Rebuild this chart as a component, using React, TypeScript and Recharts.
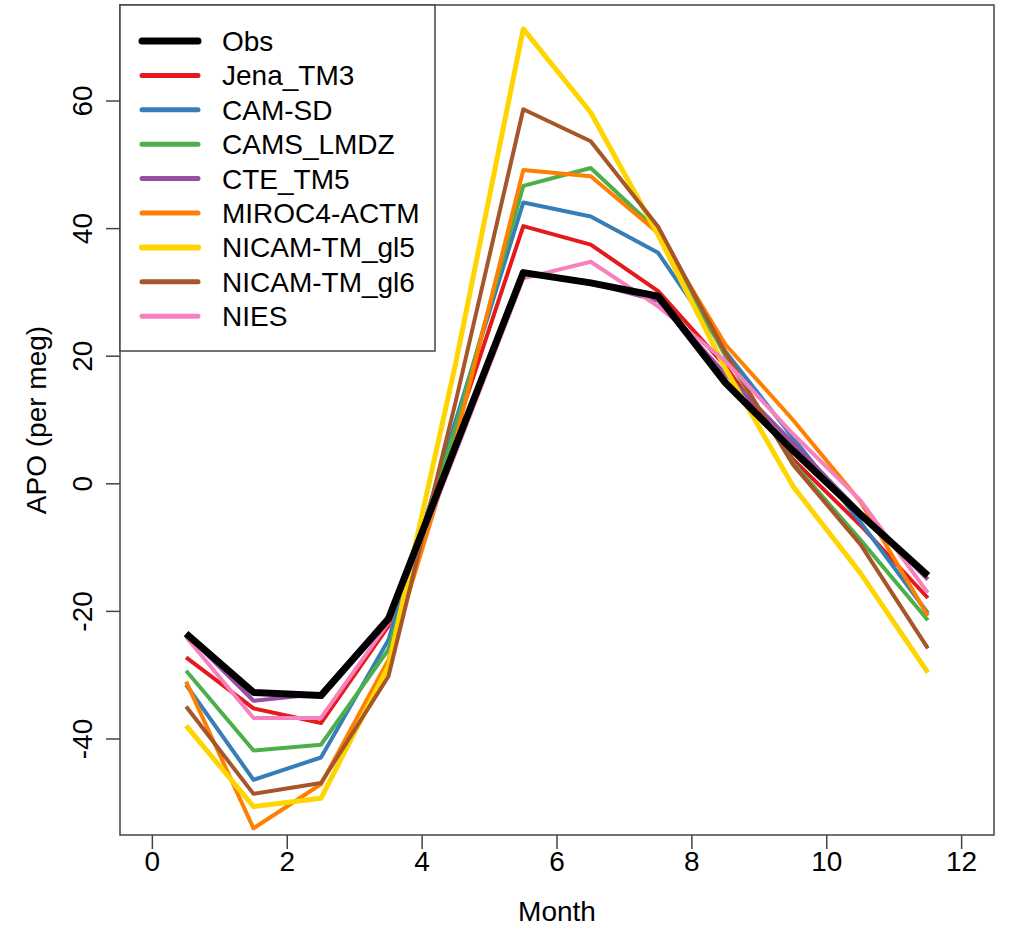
import React from 'react';
import {
  LineChart,
  Line,
  XAxis,
  YAxis,
  Legend,
  ReferenceArea,
  Label
} from 'recharts';

// Monthly APO climatology, observations vs. transport models
const months = [0.5, 1.5, 2.5, 3.5, 4.5, 5.5, 6.5, 7.5, 8.5, 9.5, 10.5, 11.5];

const obs = [-23.5, -32.7, -33.2, -21.2, 6.0, 33.1, 31.5, 29.4, 15.8, 5.2, -4.8, -14.4];
const jenaTM3 = [-27.2, -35.2, -37.5, -22.3, 8.5, 40.4, 37.5, 30.2, 18.4, 3.8, -6.5, -17.9];
const camSD = [-31.5, -46.4, -42.9, -24.5, 10.0, 44.1, 41.9, 36.2, 20.7, 7.2, -6.0, -20.3];
const camsLMDZ = [-29.3, -41.8, -40.9, -26.0, 9.0, 46.7, 49.5, 39.6, 20.0, 3.3, -8.8, -21.4];
const cteTM5 = [-23.5, -34.0, -32.9, -20.8, 6.2, 33.0, 31.5, 28.7, 17.2, 6.4, -4.5, -15.0];
const miroc4 = [-31.0, -54.0, -47.1, -27.6, 7.0, 49.2, 48.2, 39.3, 21.8, 10.0, -2.8, -20.7];
const nicamGl5 = [-37.9, -50.6, -49.3, -28.6, 19.0, 71.3, 58.2, 39.0, 18.0, -0.4, -14.0, -29.6];
const nicamGl6 = [-34.9, -48.6, -46.9, -30.2, 13.0, 58.7, 53.7, 40.3, 20.5, 3.0, -9.5, -25.8];
const nies = [-24.0, -36.7, -36.7, -21.8, 5.0, 32.2, 34.8, 27.8, 19.2, 7.8, -2.6, -17.1];

const xTicks = [0, 2, 4, 6, 8, 10, 12];
const yTicks = [-40, -20, 0, 20, 40, 60];

const series = [
  { key: 'Obs', values: obs, color: '#000000', width: 7 },
  { key: 'Jena_TM3', values: jenaTM3, color: '#E41A1C', width: 4 },
  { key: 'CAM-SD', values: camSD, color: '#377EB8', width: 4 },
  { key: 'CAMS_LMDZ', values: camsLMDZ, color: '#4DAF4A', width: 4 },
  { key: 'CTE_TM5', values: cteTM5, color: '#984EA3', width: 4 },
  { key: 'MIROC4-ACTM', values: miroc4, color: '#FF7F00', width: 4 },
  { key: 'NICAM-TM_gl5', values: nicamGl5, color: '#FFD500', width: 5 },
  { key: 'NICAM-TM_gl6', values: nicamGl6, color: '#A65628', width: 4 },
  { key: 'NIES', values: nies, color: '#F781BF', width: 4 }
];

const chartData = months.map((m, i) => {
  const row: Record<string, number> = { month: m };
  series.forEach(s => { row[s.key] = s.values[i]; });
  return row;
});

const X_DOMAIN: [number, number] = [-0.48, 12.48];
const Y_DOMAIN: [number, number] = [-55.05, 75.05];
const FONT = '"Liberation Sans", Arial, Helvetica, sans-serif';
const FONT_SIZE = 28;
const AXIS_COLOR = '#444';

const YTick = ({ x, y, payload }: any) => {
  const bx = x - 12;
  return (
    <text x={bx} y={y} transform={`rotate(-90 ${bx} ${y})`} textAnchor="middle" fontSize={FONT_SIZE} fill="#000" fontFamily={FONT}>
      {payload.value}
    </text>
  );
};

const renderLegend = () => (
  <svg width={318} height={349} style={{ display: 'block' }}>
    <rect x={1} y={1} width={315} height={346} fill="#fff" stroke={AXIS_COLOR} strokeWidth={1.5} />
    {series.map((s, i) => {
      const cy = 37 + i * 34.4;
      return (
        <g key={s.key}>
          <line x1={23} x2={79} y1={cy} y2={cy} stroke={s.color} strokeWidth={s.key === 'Obs' ? 7 : s.width + 1} strokeLinecap="round" />
          <text x={103} y={cy + 10} fontSize={FONT_SIZE} fontFamily={FONT} fill="#000">{s.key}</text>
        </g>
      );
    })}
  </svg>
);

// models first, observations on top
const drawOrder = [...series.slice(1), series[0]];

export default function App() {
  return (
    <div style={{ position: 'absolute', left: 0, top: 0, width: 1010, height: 929, background: '#fff', fontFamily: FONT }}>
      <LineChart width={1010} height={929} data={chartData} margin={{ top: 5, right: 16, bottom: 0, left: 0 }}>
        <XAxis
          dataKey="month"
          type="number"
          domain={X_DOMAIN}
          ticks={xTicks}
          allowDataOverflow
          height={94}
          axisLine={false}
          tickSize={14}
          tickLine={{ stroke: AXIS_COLOR, strokeWidth: 1.5 }}
          tick={{ fontSize: FONT_SIZE, fill: '#000', fontFamily: FONT }}
        >
          <Label
            content={({ viewBox }: any) => (
              <text x={viewBox.x + viewBox.width / 2} y={viewBox.y + 86} textAnchor="middle" fontSize={FONT_SIZE} fontFamily={FONT} fill="#000">
                Month
              </text>
            )}
          />
        </XAxis>
        <YAxis
          type="number"
          domain={Y_DOMAIN}
          ticks={yTicks}
          allowDataOverflow
          width={120}
          axisLine={false}
          tickSize={14}
          tickLine={{ stroke: AXIS_COLOR, strokeWidth: 1.5 }}
          tick={<YTick />}
        >
          <Label
            content={({ viewBox }: any) => {
              const lx = 46;
              const ly = viewBox.y + viewBox.height / 2;
              return (
                <text x={lx} y={ly} transform={`rotate(-90 ${lx} ${ly})`} textAnchor="middle" fontSize={FONT_SIZE} fontFamily={FONT} fill="#000">
                  APO (per meg)
                </text>
              );
            }}
          />
        </YAxis>
        {drawOrder.map(s => (
          <Line
            key={s.key}
            type="linear"
            dataKey={s.key}
            stroke={s.color}
            strokeWidth={s.width}
            strokeLinejoin="round"
            dot={false}
            activeDot={false}
            isAnimationActive={false}
          />
        ))}
        <ReferenceArea
          x1={X_DOMAIN[0]}
          x2={X_DOMAIN[1]}
          y1={Y_DOMAIN[0]}
          y2={Y_DOMAIN[1]}
          fill="none"
          fillOpacity={0}
          stroke={AXIS_COLOR}
          strokeWidth={1.5}
        />
        <Legend
          layout="horizontal"
          verticalAlign="middle"
          align="center"
          content={renderLegend}
          wrapperStyle={{ left: 119, top: 4, width: 318, height: 349 }}
        />
      </LineChart>
    </div>
  );
}
